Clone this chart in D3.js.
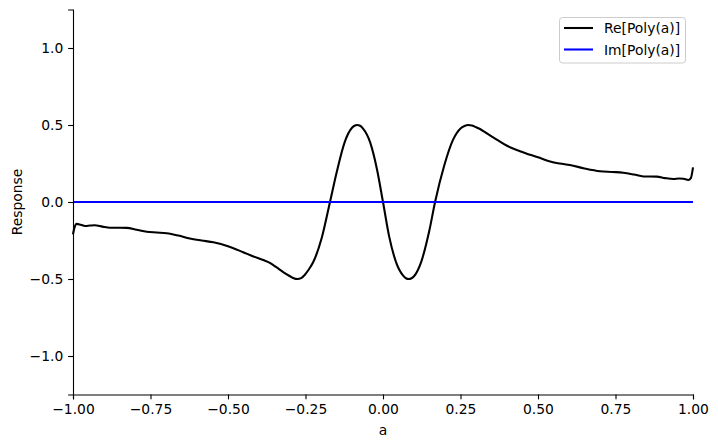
<!DOCTYPE html>
<html><head><meta charset="utf-8">
<script src="https://cdn.jsdelivr.net/npm/d3@7"></script>
<style>body{margin:0;background:#fff}svg{display:block;font-family:"DejaVu Sans",sans-serif}</style>
</head><body><svg id="c" width="718" height="448"></svg>
<script>
const xValues = [-1.0,-0.995,-0.988,-0.975,-0.961,-0.945,-0.93,-0.905,-0.881,-0.85,-0.827,-0.795,-0.762,-0.73,-0.698,-0.66,-0.623,-0.585,-0.547,-0.5,-0.451,-0.42,-0.386,-0.365,-0.343,-0.322,-0.3,-0.288,-0.276,-0.264,-0.252,-0.24,-0.225,-0.198,-0.171,-0.149,-0.123,-0.1,-0.092,-0.083,-0.074,-0.065,-0.042,-0.02,0,
0.02,0.042,0.065,0.074,0.083,0.092,0.1,0.123,0.149,0.168,0.198,0.225,0.25,0.263,0.275,0.287,0.3,0.313,0.33,0.345,0.367,0.4,0.442,0.5,0.539,0.57,0.603,0.65,0.7,0.74,0.775,0.81,0.84,0.883,0.91,0.937,0.955,0.969,0.985,0.993,1.0];
const reValues = [-0.21,-0.165,-0.142,-0.148,-0.156,-0.153,-0.151,-0.16,-0.167,-0.167,-0.168,-0.18,-0.193,-0.198,-0.203,-0.218,-0.237,-0.25,-0.262,-0.287,-0.326,-0.352,-0.377,-0.395,-0.425,-0.455,-0.482,-0.495,-0.5,-0.494,-0.472,-0.44,-0.39,-0.236,0.0,0.197,0.392,0.482,0.495,0.5,0.495,0.478,0.39,0.218,0,
-0.225,-0.39,-0.478,-0.495,-0.5,-0.495,-0.482,-0.39,-0.19,0,0.24,0.4,0.478,0.494,0.5,0.496,0.486,0.474,0.452,0.432,0.405,0.365,0.33,0.29,0.263,0.25,0.24,0.218,0.2,0.195,0.19,0.178,0.166,0.165,0.155,0.149,0.153,0.151,0.143,0.155,0.225];
const imValues = xValues.map(() => 0);
const xTicks = [-1.0,-0.75,-0.5,-0.25,0,0.25,0.5,0.75,1.0];
const yTicks = [-1.0,-0.5,0,0.5,1.0];
const seriesNames = ["Re[Poly(a)]","Im[Poly(a)]"];
const seriesColors = ["#000000","#0000ff"];

const svg = d3.select("#c");
const L=73,R=693,T=9.5,B=394.5;
const x = d3.scaleLinear().domain([-1,1]).range([L,R]);
const y = d3.scaleLinear().domain([-1.25,1.25]).range([B,T]);
const fs = 13.89;

const line = d3.line().x(d=>x(d[0])).y(d=>y(d[1])).curve(d3.curveMonotoneX);
svg.append("path").datum(xValues.map((v,i)=>[v,imValues[i]])).attr("d",line)
  .attr("fill","none").attr("stroke",seriesColors[1]).attr("stroke-width",2.08);
svg.insert("path",":first-child").datum(xValues.map((v,i)=>[v,reValues[i]])).attr("d",line)
  .attr("fill","none").attr("stroke",seriesColors[0]).attr("stroke-width",2.08).attr("stroke-linejoin","round");

const fmtX = d => d3.format(".2f")(d).replace("-","\u2212");
const fmtY = d => d3.format(".1f")(d).replace("-","\u2212");
const xa = svg.append("g").attr("transform",`translate(0,${B})`)
  .call(d3.axisBottom(x).tickValues(xTicks).tickFormat(fmtX).tickSizeOuter(0).tickSize(4.86).tickPadding(4.86));
const ya = svg.append("g").attr("transform",`translate(${L},0)`)
  .call(d3.axisLeft(y).tickValues(yTicks).tickFormat(fmtY).tickSizeOuter(0).tickSize(4.86).tickPadding(4.86));
[xa,ya].forEach(a=>{
  a.selectAll("text").attr("font-size",fs).attr("font-family","DejaVu Sans").attr("fill","#000");
  a.select(".domain").attr("stroke","#000").attr("stroke-width",1.1);
  a.selectAll(".tick line").attr("stroke","#000").attr("stroke-width",1.1);
});
svg.append("text").attr("x",x(0)).attr("y",435).attr("text-anchor","middle").attr("font-size",fs).text("a");
svg.append("text").attr("transform",`translate(22,${(T+B)/2}) rotate(-90)`).attr("text-anchor","middle").attr("font-size",fs).text("Response");

const lg = svg.append("g");
lg.append("rect").attr("x",559.5).attr("y",17.5).attr("width",126).attr("height",45.5).attr("rx",3)
  .attr("fill","#fff").attr("fill-opacity",0.8).attr("stroke","#ccc").attr("stroke-width",1);
seriesNames.forEach((n,i)=>{
  const yy = 28 + i*21.5;
  lg.append("line").attr("x1",564).attr("x2",593).attr("y1",yy).attr("y2",yy).attr("stroke",seriesColors[i]).attr("stroke-width",2.08);
  lg.append("text").attr("x",604).attr("y",yy).attr("dy","0.36em").attr("font-size",fs).text(n);
});
</script></body></html>
